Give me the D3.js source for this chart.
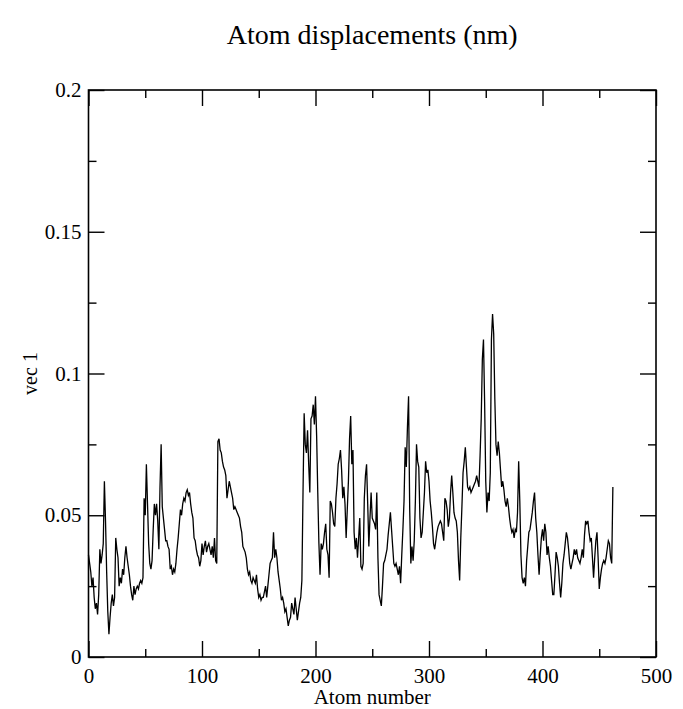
<!DOCTYPE html>
<html>
<head>
<meta charset="utf-8">
<script src="https://cdn.jsdelivr.net/npm/d3@7"></script>
<style>
    body { margin: 0; background: #fff; }
    #chart { width: 683px; height: 709px; }
    text { font-family: "Liberation Serif", "Times New Roman", serif; fill: #000; }
</style>
</head>
<body>
<div id="chart"></div>
<script>

// Displacement of each atom (index = atom number)
const vec1 = [
    0.036, 0.033, 0.030, 0.025, 0.028, 0.021, 0.017, 0.019, 0.015, 0.022,
    0.038, 0.033, 0.036, 0.040, 0.062, 0.048, 0.030, 0.016, 0.008, 0.014,
    0.019, 0.022, 0.018, 0.021, 0.042, 0.038, 0.035, 0.025, 0.028, 0.026,
    0.031, 0.029, 0.035, 0.039, 0.035, 0.032, 0.029, 0.025, 0.022, 0.020,
    0.025, 0.022, 0.024, 0.025, 0.024, 0.026, 0.027, 0.026, 0.028, 0.056,
    0.050, 0.068, 0.054, 0.040, 0.033, 0.031, 0.034, 0.045, 0.054, 0.050,
    0.054, 0.048, 0.038, 0.060, 0.075, 0.053, 0.049, 0.045, 0.041, 0.041,
    0.039, 0.038, 0.031, 0.032, 0.029, 0.031, 0.030, 0.033, 0.038, 0.042,
    0.047, 0.052, 0.050, 0.054, 0.056, 0.055, 0.058, 0.059, 0.057, 0.058,
    0.054, 0.051, 0.049, 0.042, 0.041, 0.038, 0.036, 0.035, 0.032, 0.034,
    0.040, 0.036, 0.039, 0.041, 0.037, 0.039, 0.040, 0.038, 0.036, 0.039,
    0.035, 0.042, 0.034, 0.033, 0.076, 0.077, 0.073, 0.072, 0.069, 0.067,
    0.066, 0.064, 0.056, 0.059, 0.062, 0.060, 0.058, 0.056, 0.052, 0.053,
    0.052, 0.051, 0.050, 0.049, 0.046, 0.044, 0.039, 0.038, 0.037, 0.035,
    0.031, 0.029, 0.030, 0.027, 0.026, 0.028, 0.027, 0.026, 0.029, 0.024,
    0.021, 0.022, 0.020, 0.021, 0.021, 0.023, 0.025, 0.021, 0.025, 0.029,
    0.033, 0.034, 0.035, 0.044, 0.035, 0.038, 0.035, 0.030, 0.027, 0.024,
    0.020, 0.021, 0.019, 0.016, 0.017, 0.014, 0.011, 0.013, 0.014, 0.019,
    0.017, 0.015, 0.021, 0.017, 0.013, 0.016, 0.019, 0.021, 0.027, 0.058,
    0.086, 0.075, 0.072, 0.080, 0.068, 0.058, 0.084, 0.085, 0.089, 0.082,
    0.092, 0.078, 0.058, 0.040, 0.029, 0.040, 0.038, 0.040, 0.044, 0.047,
    0.038, 0.036, 0.028, 0.055, 0.054, 0.051, 0.047, 0.046, 0.056, 0.061,
    0.068, 0.070, 0.073, 0.066, 0.056, 0.060, 0.054, 0.042, 0.052, 0.062,
    0.077, 0.085, 0.068, 0.073, 0.044, 0.038, 0.042, 0.035, 0.042, 0.049,
    0.032, 0.031, 0.033, 0.056, 0.064, 0.068, 0.054, 0.039, 0.049, 0.058,
    0.049, 0.048, 0.047, 0.045, 0.058, 0.035, 0.022, 0.020, 0.018, 0.025,
    0.033, 0.034, 0.036, 0.038, 0.043, 0.047, 0.051, 0.045, 0.039, 0.033,
    0.032, 0.033, 0.031, 0.029, 0.032, 0.026, 0.036, 0.045, 0.055, 0.074,
    0.067, 0.081, 0.092, 0.052, 0.033, 0.039, 0.034, 0.041, 0.055, 0.075,
    0.069, 0.067, 0.049, 0.042, 0.044, 0.051, 0.058, 0.069, 0.065, 0.066,
    0.062, 0.055, 0.051, 0.046, 0.040, 0.038, 0.041, 0.044, 0.046, 0.047,
    0.048, 0.047, 0.044, 0.041, 0.056, 0.055, 0.052, 0.046, 0.049, 0.058,
    0.064, 0.058, 0.051, 0.049, 0.048, 0.044, 0.034, 0.027, 0.042, 0.053,
    0.065, 0.069, 0.074, 0.067, 0.060, 0.059, 0.060, 0.058, 0.059, 0.060,
    0.061, 0.062, 0.064, 0.062, 0.060, 0.071, 0.084, 0.105, 0.112, 0.090,
    0.062, 0.051, 0.058, 0.055, 0.065, 0.112, 0.121, 0.114, 0.091, 0.075,
    0.071, 0.076, 0.072, 0.066, 0.060, 0.062, 0.059, 0.055, 0.053, 0.056,
    0.053, 0.049, 0.046, 0.044, 0.045, 0.042, 0.045, 0.044, 0.051, 0.069,
    0.055, 0.036, 0.028, 0.026, 0.028, 0.025, 0.034, 0.039, 0.044, 0.045,
    0.048, 0.051, 0.055, 0.058, 0.049, 0.044, 0.036, 0.029, 0.036, 0.042,
    0.045, 0.041, 0.047, 0.044, 0.036, 0.039, 0.035, 0.032, 0.027, 0.022,
    0.022, 0.029, 0.037, 0.035, 0.032, 0.026, 0.021, 0.026, 0.033, 0.036,
    0.040, 0.044, 0.042, 0.038, 0.033, 0.031, 0.033, 0.035, 0.038, 0.036,
    0.038, 0.035, 0.034, 0.033, 0.035, 0.038, 0.035, 0.043, 0.048, 0.047,
    0.048, 0.044, 0.041, 0.042, 0.035, 0.028, 0.035, 0.041, 0.044, 0.035,
    0.024, 0.028, 0.031, 0.033, 0.034, 0.033, 0.035, 0.038, 0.041, 0.040,
    0.035, 0.033, 0.060
];

const xMajorTicks = [0, 100, 200, 300, 400, 500];
const xMinorTicks = [50, 150, 250, 350, 450];
const yMajorTicks = [0, 0.05, 0.1, 0.15, 0.2];
const yMinorTicks = [0.025, 0.075, 0.125, 0.175];
const yTickLabels = ["0", "0.05", "0.1", "0.15", "0.2"];

const chartTitle = "Atom displacements (nm)";
const xLabel = "Atom number";
const yLabel = "vec 1";

const serif = "'Liberation Serif', 'Times New Roman', serif";


class DisplacementPlot {

    constructor(_parentElement, _data) {
        this.parentElement = _parentElement;
        this.data = _data;
        this.initVis();
    }

    initVis() {
        let vis = this;

        vis.margin = {top: 90, right: 27, bottom: 52, left: 88.5};
        vis.width = 683 - vis.margin.left - vis.margin.right;
        vis.height = 709 - vis.margin.top - vis.margin.bottom;

        vis.svg = d3.select(`#${vis.parentElement}`).append("svg")
            .attr("width", 683)
            .attr("height", 709);

        vis.g = vis.svg.append("g")
            .attr("transform", `translate(${vis.margin.left}, ${vis.margin.top})`);

        vis.x = d3.scaleLinear().domain([0, 500]).range([0, vis.width]);
        vis.y = d3.scaleLinear().domain([0, 0.2]).range([vis.height, 0]);

        // Title
        vis.svg.append("text")
            .attr("x", vis.margin.left + vis.width / 2)
            .attr("y", 44)
            .attr("text-anchor", "middle")
            .style("font-size", "28px")
            .text(chartTitle);

        vis.drawAxes();
        vis.updateVis();
    }

    drawAxes() {
        let vis = this;

        // ticks point inward on all four sides, like Grace
        const axes = [
            {axis: d3.axisBottom(vis.x).tickValues(xMajorTicks).tickSize(-16), at: [0, vis.height], labels: true},
            {axis: d3.axisBottom(vis.x).tickValues(xMinorTicks).tickSize(-8), at: [0, vis.height]},
            {axis: d3.axisTop(vis.x).tickValues(xMajorTicks).tickSize(-16), at: [0, 0]},
            {axis: d3.axisTop(vis.x).tickValues(xMinorTicks).tickSize(-8), at: [0, 0]},
            {axis: d3.axisLeft(vis.y).tickValues(yMajorTicks).tickSize(-16), at: [0, 0], labels: true},
            {axis: d3.axisLeft(vis.y).tickValues(yMinorTicks).tickSize(-8), at: [0, 0]},
            {axis: d3.axisRight(vis.y).tickValues(yMajorTicks).tickSize(-16), at: [vis.width, 0]},
            {axis: d3.axisRight(vis.y).tickValues(yMinorTicks).tickSize(-8), at: [vis.width, 0]}
        ];

        axes.forEach((a, i) => {
            const g = vis.g.append("g")
                .attr("class", `axis axis-${i}`)
                .attr("transform", `translate(${a.at[0]}, ${a.at[1]})`)
                .call(a.axis)
                .attr("font-family", serif)
                .attr("font-size", 21);
            g.select(".domain").remove();
            g.selectAll(".tick line").attr("stroke", "#000").attr("stroke-width", 1.4);
            if (!a.labels) g.selectAll(".tick text").remove();
        });

        // x tick labels
        vis.g.select(".axis-0").selectAll(".tick text")
            .attr("y", 11)
            .attr("dy", "0.71em")
            .attr("fill", "#000");

        // y tick labels
        vis.g.select(".axis-4").selectAll(".tick text")
            .attr("x", -7)
            .attr("fill", "#000")
            .text((d, i) => yTickLabels[i]);

        // Frame
        vis.g.append("rect")
            .attr("width", vis.width)
            .attr("height", vis.height)
            .attr("fill", "none")
            .attr("stroke", "#000")
            .attr("stroke-width", 1.6);

        vis.svg.append("text") // x-axis label
            .attr("x", vis.margin.left + vis.width / 2)
            .attr("y", 704)
            .attr("text-anchor", "middle")
            .style("font-size", "21px")
            .text(xLabel);

        vis.svg.append("text") // y-axis label
            .attr("transform", "rotate(-90)")
            .attr("x", -(vis.margin.top + vis.height / 2))
            .attr("y", 37)
            .attr("text-anchor", "middle")
            .style("font-size", "20px")
            .text(yLabel);
    }

    updateVis() {
        let vis = this;

        vis.line = d3.line()
            .x((d, i) => vis.x(i))
            .y(d => vis.y(d));

        vis.g.append("path")
            .datum(vis.data)
            .attr("fill", "none")
            .attr("stroke", "#000")
            .attr("stroke-width", 1.3)
            .attr("d", vis.line);
    }
}

new DisplacementPlot("chart", vec1);
</script>
</body>
</html>
